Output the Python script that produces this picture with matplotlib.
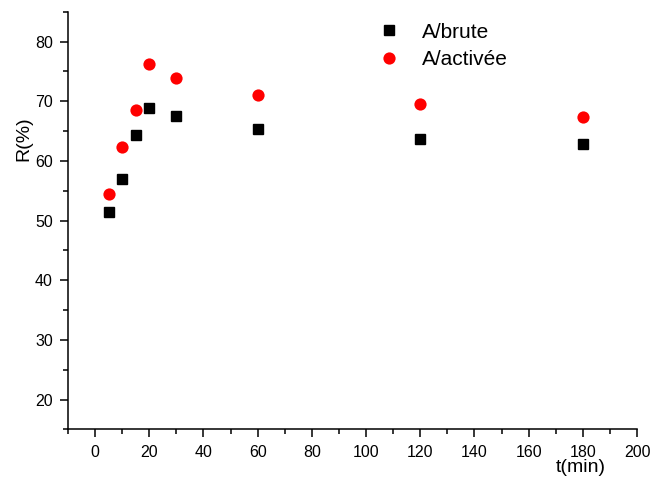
import matplotlib
matplotlib.use("Agg")
import matplotlib.pyplot as plt
from matplotlib.ticker import MultipleLocator

# contact time (min)
t_min = [5, 10, 15, 20, 30, 60, 120, 180]
# removal yield R(%)
r_brute = [51.5, 57.0, 64.3, 68.8, 67.5, 65.3, 63.7, 62.8]
r_activee = [54.5, 62.3, 68.5, 76.2, 73.9, 71.1, 69.5, 67.3]


def main():
    plt.rcParams["font.family"] = ["Liberation Sans", "DejaVu Sans"]

    fig = plt.figure(figsize=(6.52, 4.79), dpi=100)
    ax = fig.add_axes([0.1043, 0.1035, 0.8727, 0.8721])

    ax.plot(t_min, r_brute, "s", color="black", markersize=7.3,
            linestyle="none", label="A/brute")
    ax.plot(t_min, r_activee, "o", color="red", markersize=8.8,
            markeredgewidth=0, linestyle="none", label="A/activée")

    ax.set_xlim(-10, 200)
    ax.set_ylim(15, 85)
    ax.xaxis.set_major_locator(MultipleLocator(20))
    ax.xaxis.set_minor_locator(MultipleLocator(10))
    ax.yaxis.set_major_locator(MultipleLocator(10))
    ax.yaxis.set_minor_locator(MultipleLocator(5))
    ax.set_yticks(range(20, 81, 10))

    for side in ["top", "right"]:
        ax.spines[side].set_visible(False)
    for side in ["left", "bottom"]:
        ax.spines[side].set_linewidth(1.1)

    ax.tick_params(which="major", direction="out", length=6, width=1.1,
                   labelsize=11.5, pad=5)
    ax.tick_params(which="minor", direction="out", length=3.5, width=1.1)

    ax.text(0.036, 0.71, "R(%)", transform=fig.transFigure, rotation=90,
            fontsize=14, ha="center", va="center")
    ax.text(0.89, 0.023, "t(min)", transform=fig.transFigure,
            fontsize=14, ha="center", va="center")

    ax.legend(loc="upper left", bbox_to_anchor=(0.568, 0.97),
              bbox_transform=fig.transFigure, frameon=False, fontsize=15,
              handletextpad=1.1, labelspacing=0.42, handlelength=1.0,
              borderaxespad=0)

    fig.savefig("out.png", dpi=100)


if __name__ == "__main__":
    main()
